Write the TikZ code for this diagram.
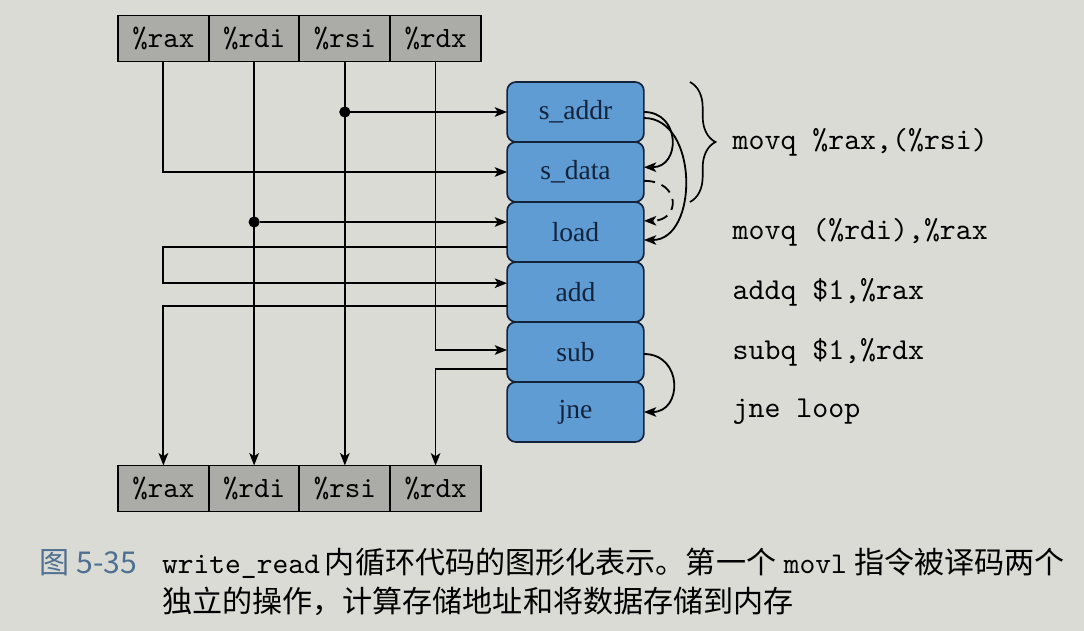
\documentclass[tikz,border=0pt]{standalone}
\usepackage{fontspec}
\setmainfont{Liberation Serif}
\newfontfamily\cjk{Noto Sans CJK SC}
\usepackage{xcolor}
\usepackage{tikz}
\usetikzlibrary{arrows.meta, positioning, calc, decorations.pathreplacing}
\definecolor{PaperGrey}{HTML}{DBDBD6}
\definecolor{RegGrey}{HTML}{ABABA7}
\definecolor{OpBlue}{HTML}{5E9CD3}
\definecolor{OpNavy}{HTML}{14233C}
\definecolor{CapBlue}{HTML}{4F7090}

\begin{document}
\begin{tikzpicture}[x=0.125mm, y=-0.125mm, >={Stealth[length=4.4pt, width=3.4pt, inset=1.1pt]}, every node/.style={outer sep=0pt}]
    \tikzstyle{reg} = [rectangle, draw=black, fill=RegGrey, line width=0.7pt, minimum width=11.34mm, minimum height=5.75mm, inner sep=0pt, font=\fontsize{10.5}{12}\selectfont\ttfamily]
    \tikzstyle{op} = [rectangle, draw=OpNavy, fill=OpBlue, line width=0.6pt, rounded corners=1.1mm, minimum width=17.1mm, minimum height=7.5mm, text=OpNavy, font=\fontsize{9.8}{11}\selectfont]
    \tikzstyle{instr} = [inner sep=0pt, font=\fontsize{10.8}{12}\selectfont\ttfamily]
    \tikzstyle{capline} = [anchor=base west, inner sep=0pt, font=\fontsize{10.7}{12}\selectfont]
    \tikzstyle{line} = [draw, ->, line width=0.65pt]
    \tikzstyle{dot} = [circle, fill=black, inner sep=0pt, minimum size=1.4mm]

    \fill [PaperGrey] (0,0) rectangle (1084,631);

    % registers on entry
    \node [reg] (rax1) at (163.4,38.5) {\%rax};
    \node [reg, right=0pt of rax1] (rdi1) {\%rdi};
    \node [reg, right=0pt of rdi1] (rsi1) {\%rsi};
    \node [reg, right=0pt of rsi1] (rdx1) {\%rdx};

    % registers on exit
    \node [reg] (rax2) at (163.4,488.5) {\%rax};
    \node [reg, right=0pt of rax2] (rdi2) {\%rdi};
    \node [reg, right=0pt of rdi2] (rsi2) {\%rsi};
    \node [reg, right=0pt of rsi2] (rdx2) {\%rdx};

    % operations
    \node [op] (saddr) at (575.5,112) {s\_addr};
    \node [op, below=0pt of saddr] (sdata) {s\_data};
    \node [op, below=0pt of sdata] (load) {load};
    \node [op, below=0pt of load] (add) {add};
    \node [op, below=0pt of add] (sub) {sub};
    \node [op, below=0pt of sub] (jne) {jne};

    % instructions
    \node [instr, right=11.1mm of saddr.south east] (movstore) {movq \%rax,(\%rsi)};
    \node [instr, right=11.1mm of load] (movload) {movq (\%rdi),\%rax};
    \node [instr, right=11.1mm of add] (addq) {addq \$1,\%rax};
    \node [instr, right=11.1mm of sub] (subq) {subq \$1,\%rdx};
    \node [instr, right=11.1mm of jne] (jneloop) {jne loop};
    \draw [decorate, decoration={brace, amplitude=3.2mm}, line width=0.6pt] ([xshift=5.75mm]saddr.north east) -- ([xshift=5.75mm]sdata.south east);

    \coordinate (loadin) at ([yshift=1.25mm]load.west);
    \coordinate (loadout) at ([yshift=-1.9mm]load.west);
    \coordinate (addin) at ([yshift=1.1mm]add.west);
    \coordinate (addout) at ([yshift=-1.75mm]add.west);
    \coordinate (subin) at ([yshift=0.25mm]sub.west);
    \coordinate (subout) at ([yshift=-2.1mm]sub.west);
    \node [dot] (rsidot) at (rsi1 |- saddr.west) {};
    \node [dot] (rdidot) at (rdi1 |- loadin) {};

    \path [line] (rsi1.south) -- (rsi2.north);
    \path [line] (rdi1.south) -- (rdi2.north);
    \path [line] (rsidot) -- (saddr.west);
    \path [line] (rax1.south) |- (sdata.west);
    \path [line] (rdidot) -- (loadin);
    \path [line] (loadout) -- (loadout -| rax1) |- (addin);
    \path [line] (addout) -| (rax2.north);
    \path [line] (rdx1.south) |- (subin);
    \path [line] (subout) -| (rdx2.north);

    % dependencies between operations
    \path [line] (saddr.east) .. controls +(37,0) and +(37,0) .. ([yshift=0.6mm]sdata.east);
    \path [line] ([yshift=-0.75mm]saddr.east) .. controls +(55,0) and +(55,0) .. ([yshift=-1mm]load.east);
    \path [line, dash pattern=on 4pt off 2.5pt] ([yshift=-1.1mm]sdata.east) .. controls +(37,0) and +(37,0) .. ([yshift=1.4mm]load.east);
    \path [line] ([yshift=-0.25mm]sub.east) .. controls +(39,0) and +(39,0) .. (jne.east);

    % caption
    \node [capline, text=CapBlue, font=\cjk\fontsize{10.7}{12}\selectfont] (fignum) at (40,573) {图 5-35};
    \node [capline] (capA) at (162,573) {\texttt{write\_read}\,{\cjk 内循环代码的图形化表示。第一个} \texttt{movl} {\cjk 指令被译码两个}};
    \node [capline, font=\cjk\fontsize{10.7}{12}\selectfont] (capB) at (162,612) {独立的操作，计算存储地址和将数据存储到内存};
\end{tikzpicture}
\end{document}
